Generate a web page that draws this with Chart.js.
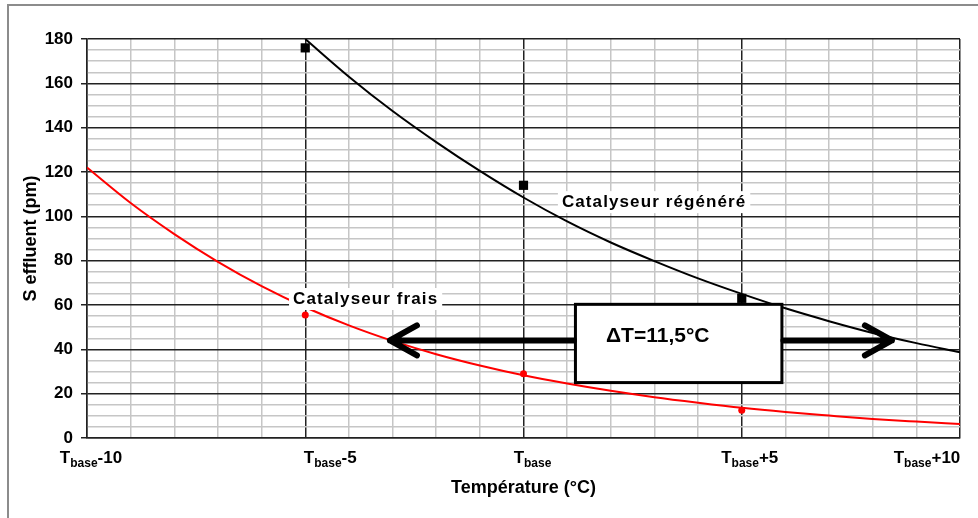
<!DOCTYPE html>
<html>
<head>
<meta charset="utf-8">
<script src="https://cdn.jsdelivr.net/npm/chart.js@4.4.1/dist/chart.umd.min.js"></script>
<style>
body { margin: 0; background: #fff; }
#wrap { width: 978px; height: 518px; }
</style>
</head>
<body>
<div id="wrap"><canvas id="tempChart" width="978" height="518"></canvas></div>
<script>
var ecartsFrais = [-10, -9, -8, -7, -6, -5, -4, -3, -2, -1, 0, 1, 2, 3, 4, 5, 6, 7, 8, 9, 10];
var courbeFrais = [122, 106, 92, 79.5, 68.5, 59, 50.8, 43.8, 37.8, 32.7, 28.3, 24.6, 21.3, 18.4, 15.9, 13.6, 11.7, 10.1, 8.6, 7.4, 6.3];
var ecartsRegen = [-5, -4, -3, -2, -1, 0, 1, 2, 3, 4, 5, 6, 7, 8, 9, 10];
var courbeRegen = [180, 163, 147.5, 133.5, 120.5, 108.5, 97.7, 88.2, 79.8, 72, 65, 58.5, 52.7, 47.4, 42.8, 38.7];
var mesuresX = [-5, 0, 5];
var mesuresFrais = [55.5, 29, 12.5];
var mesuresRegen = [176, 114, 63];
var ticksX = [-10, -5, 0, 5, 10];
var ticksXSuffixe = ['-10', '-5', '', '+5', '+10'];
var deltaT = '11,5';

var police = "'Liberation Sans', Arial, sans-serif";
Chart.defaults.font.family = police;
Chart.defaults.color = '#000';

function points(xs, ys) {
    var out = [];
    for (var i in xs) {
        out.push({x: xs[i], y: ys[i]});
    }
    return out;
}

function etiquette(ctx, txt, x, y) {
    ctx.save();
    ctx.font = 'bold 17px ' + police;
    ctx.letterSpacing = '1.1px';
    var w = ctx.measureText(txt).width;
    ctx.fillStyle = '#fff';
    ctx.fillRect(x - 4, y - 11, w + 8, 22);
    ctx.fillStyle = '#000';
    ctx.textBaseline = 'middle';
    ctx.fillText(txt, x, y);
    ctx.restore();
}

function fleche(ctx, x0, x1, y) {
    var sens = x1 > x0 ? 1 : -1;
    ctx.beginPath();
    ctx.moveTo(x0, y);
    ctx.lineTo(x1, y);
    ctx.moveTo(x1 - sens * 27, y - 15);
    ctx.lineTo(x1, y);
    ctx.lineTo(x1 - sens * 27, y + 15);
    ctx.stroke();
}

var dessins = {
    id: 'dessins',
    beforeDraw: function(chart) {
        var ctx = chart.ctx;
        ctx.save();
        ctx.strokeStyle = '#8c8c8c';
        ctx.lineWidth = 2;
        ctx.beginPath();
        ctx.moveTo(8, 518);
        ctx.lineTo(8, 5);
        ctx.lineTo(978, 5);
        ctx.stroke();
        ctx.restore();
    },
    afterDatasetsDraw: function(chart) {
        var ctx = chart.ctx;
        var sx = chart.scales.x, sy = chart.scales.y;

        etiquette(ctx, 'Catalyseur régénéré', sx.getPixelForValue(0.88), sy.getPixelForValue(106.4));
        etiquette(ctx, 'Catalyseur frais', sx.getPixelForValue(-5.28), sy.getPixelForValue(62.7));

        var bx0 = sx.getPixelForValue(1.19), bx1 = sx.getPixelForValue(5.92);
        var by0 = sy.getPixelForValue(60.3), by1 = sy.getPixelForValue(25);
        ctx.save();
        ctx.fillStyle = '#fff';
        ctx.fillRect(bx0, by0, bx1 - bx0, by1 - by0);
        ctx.strokeStyle = '#000';
        ctx.lineWidth = 3;
        ctx.strokeRect(bx0, by0, bx1 - bx0, by1 - by0);

        ctx.font = 'bold 21px ' + police;
        ctx.fillStyle = '#000';
        ctx.textBaseline = 'middle';
        ctx.fillText('\u0394T=' + deltaT + '°C', sx.getPixelForValue(1.89), sy.getPixelForValue(45.8));

        var ya = sy.getPixelForValue(44);
        ctx.lineWidth = 6;
        ctx.lineCap = 'round';
        ctx.lineJoin = 'round';
        fleche(ctx, bx0 - 1.5, sx.getPixelForValue(-3.06), ya);
        fleche(ctx, bx1 + 1.5, sx.getPixelForValue(8.44), ya);
        ctx.restore();
    },
    afterDraw: function(chart) {
        var ctx = chart.ctx;
        var sx = chart.scales.x;
        var decal = [4, 25, 9, 8, -33];
        var base = chart.chartArea.bottom + 25;
        ctx.save();
        ctx.fillStyle = '#000';
        ctx.textBaseline = 'alphabetic';
        for (var i in ticksX) {
            ctx.font = 'bold 17px ' + police;
            var wT = ctx.measureText('T').width;
            var wS = ctx.measureText(ticksXSuffixe[i]).width;
            ctx.font = 'bold 12px ' + police;
            var wB = ctx.measureText('base').width;
            var total = wT + wB + wS;
            var x = sx.getPixelForValue(ticksX[i]) + decal[i] - total / 2;
            ctx.font = 'bold 17px ' + police;
            ctx.fillText('T', x, base);
            ctx.font = 'bold 12px ' + police;
            ctx.fillText('base', x + wT, base + 4);
            ctx.font = 'bold 17px ' + police;
            ctx.fillText(ticksXSuffixe[i], x + wT + wB, base);
        }
        ctx.restore();
    }
};

var ctx = document.getElementById('tempChart');

var tempChart = new Chart(ctx, {
    type: 'scatter',
    data: {
        datasets: [
            {
                label: 'Catalyseur régénéré (courbe)',
                data: points(ecartsRegen, courbeRegen),
                showLine: true,
                borderColor: '#000',
                borderWidth: 2,
                pointRadius: 0,
                cubicInterpolationMode: 'monotone'
            },
            {
                label: 'Catalyseur régénéré',
                data: points(mesuresX, mesuresRegen),
                pointStyle: 'rect',
                pointRadius: 6.5,
                backgroundColor: '#000',
                borderColor: '#000',
                borderWidth: 0
            },
            {
                label: 'Catalyseur frais (courbe)',
                data: points(ecartsFrais, courbeFrais),
                showLine: true,
                borderColor: '#ff0000',
                borderWidth: 2,
                pointRadius: 0,
                cubicInterpolationMode: 'monotone'
            },
            {
                label: 'Catalyseur frais',
                data: points(mesuresX, mesuresFrais),
                pointRadius: 3.5,
                backgroundColor: '#ff0000',
                borderColor: '#ff0000',
                borderWidth: 0
            }
        ]
    },
    options: {
        responsive: false,
        animation: false,
        events: [],
        layout: { padding: { left: 10, top: 39, right: 18, bottom: 10 } },
        plugins: {
            legend: { display: false },
            tooltip: { enabled: false }
        },
        scales: {
            x: {
                type: 'linear',
                min: -10,
                max: 10,
                ticks: { stepSize: 1, display: false },
                grid: {
                    color: function(c) { return c.tick && c.tick.value % 5 === 0 ? '#222' : '#c6c6c6'; },
                    lineWidth: 1.5,
                    drawTicks: false
                },
                border: { color: '#222', width: 1.5 },
                title: {
                    display: true,
                    text: 'Température (°C)',
                    font: { size: 18, weight: 'bold' },
                    padding: { top: 0, bottom: 9 }
                },
                afterFit: function(s) { s.height = 70; }
            },
            y: {
                min: 0,
                max: 180,
                ticks: {
                    stepSize: 5,
                    autoSkip: false,
                    padding: 8,
                    font: { size: 17, weight: 'bold' },
                    callback: function(v) { return v % 20 === 0 ? v : ''; }
                },
                grid: {
                    color: function(c) { return c.tick && c.tick.value % 20 === 0 ? '#222' : '#c6c6c6'; },
                    tickColor: function(c) { return c.tick && c.tick.value % 20 === 0 ? '#222' : 'rgba(0,0,0,0)'; },
                    lineWidth: 1.5,
                    tickLength: 6
                },
                border: { color: '#222', width: 1.5 },
                title: {
                    display: true,
                    text: 'S effluent (pm)',
                    font: { size: 18, weight: 'bold' },
                    padding: { top: 10, bottom: 10 }
                },
                afterFit: function(s) { s.width = 77; }
            }
        }
    },
    plugins: [dessins]
});
</script>
</body>
</html>
